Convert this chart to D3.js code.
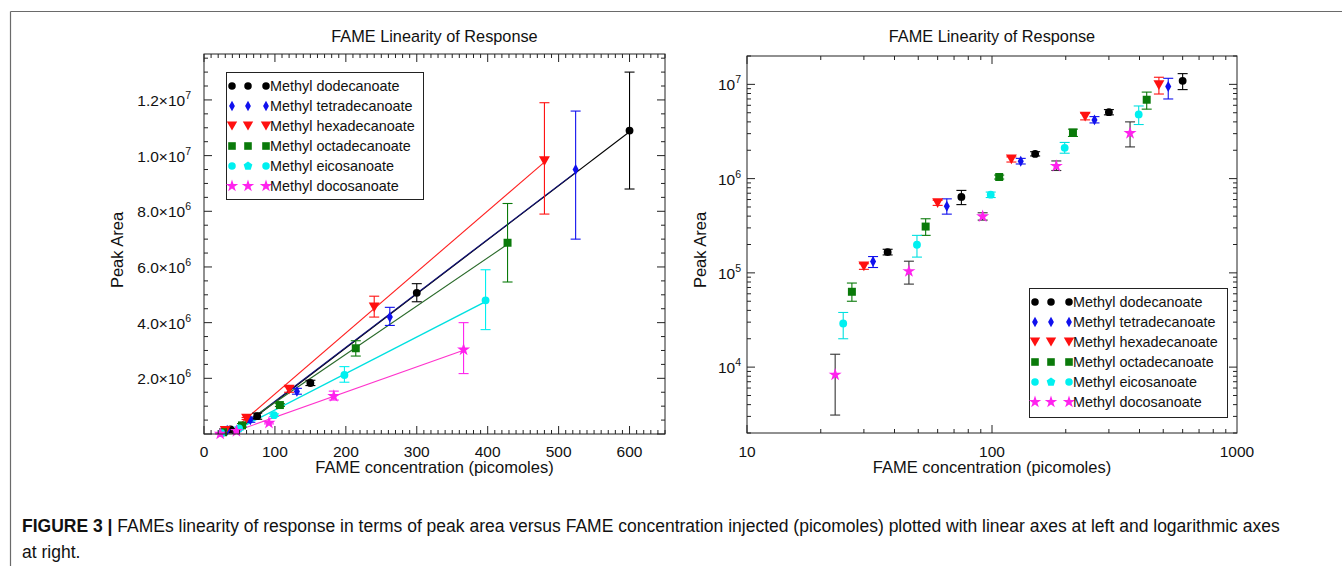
<!DOCTYPE html>
<html><head><meta charset="utf-8">
<script src="https://cdn.jsdelivr.net/npm/d3@7"></script>
<style>body{margin:0;background:#fff} text{font-family:"Liberation Sans",Arial,Helvetica,sans-serif;fill:#111}</style>
</head><body><svg id="c" width="1342" height="566"></svg>
<script>
// ---------- DATA ----------
const seriesNames = ["Methyl dodecanoate","Methyl tetradecanoate","Methyl hexadecanoate","Methyl octadecanoate","Methyl eicosanoate","Methyl docosanoate"];
const seriesShapes = ["circle","diamond","triangleDown","square","pentagon","star"];
const seriesColors = ["#000000","#1010ee","#ff1010","#0a7a0a","#00f0f0","#ff22ee"];
const fitColors = ["#000000","#10107a","#ff2020","#2a6a2a","#00e0e0","#ff33cc"];
const logErrColors = ["#000000","#1010ee","#ff1010","#0a7a0a","#00e0e0","#333333"];

const dodecX = [37.5, 75, 150, 300, 600];
const dodecY = [1.66e5, 6.4e5, 1.83e6, 5.07e6, 1.09e7];
const dodecLo = [1.55e5, 5.3e5, 1.74e6, 4.75e6, 8.8e6];
const dodecHi = [1.78e5, 7.5e5, 1.93e6, 5.4e6, 1.30e7];

const tetraX = [32.7, 65.4, 131, 262, 524];
const tetraY = [1.32e5, 5.1e5, 1.53e6, 4.2e6, 9.5e6];
const tetraLo = [1.14e5, 4.2e5, 1.43e6, 3.9e6, 7.0e6];
const tetraHi = [1.49e5, 6.1e5, 1.64e6, 4.55e6, 1.16e7];

const hexaX = [30, 60, 120, 240, 480];
const hexaY = [1.17e5, 5.5e5, 1.6e6, 4.55e6, 9.8e6];
const hexaLo = [1.09e5, 5.2e5, 1.5e6, 4.2e6, 7.9e6];
const hexaHi = [1.25e5, 5.9e5, 1.7e6, 4.95e6, 1.19e7];

const octaX = [26.8, 53.6, 107, 214, 428];
const octaY = [6.3e4, 3.1e5, 1.04e6, 3.08e6, 6.87e6];
const octaLo = [5.0e4, 2.5e5, 0.99e6, 2.8e6, 5.46e6];
const octaHi = [7.8e4, 3.75e5, 1.09e6, 3.35e6, 8.28e6];

const eicoX = [24.7, 49.4, 98.8, 198, 397];
const eicoY = [2.9e4, 1.99e5, 6.76e5, 2.12e6, 4.8e6];
const eicoLo = [2.0e4, 1.47e5, 6.3e5, 1.86e6, 3.75e6];
const eicoHi = [3.8e4, 2.5e5, 7.2e5, 2.42e6, 5.9e6];

const docoX = [22.9, 45.8, 91.6, 183, 366];
const docoY = [8.3e3, 1.04e5, 3.97e5, 1.36e6, 3.03e6];
const docoLo = [3.1e3, 7.6e4, 3.63e5, 1.22e6, 2.17e6];
const docoHi = [1.37e4, 1.33e5, 4.34e5, 1.54e6, 4.0e6];

const linXTicks = [0, 100, 200, 300, 400, 500, 600];
const linYTicks = [2e6, 4e6, 6e6, 8e6, 1e7, 1.2e7];
const linYLabels = [["2.0×10","6"],["4.0×10","6"],["6.0×10","6"],["8.0×10","6"],["1.0×10","7"],["1.2×10","7"]];
const logXTicks = [10, 100, 1000];
const logXLabels = ["10","100","1000"];
const logYTicks = [1e4, 1e5, 1e6, 1e7];
const logYLabels = [["10","4"],["10","5"],["10","6"],["10","7"]];

const titleText = "FAME Linearity of Response";
const xTitle = "FAME concentration (picomoles)";
const yTitle = "Peak Area";

// ---------- BUILD ----------
const allX = [dodecX, tetraX, hexaX, octaX, eicoX, docoX];
const allY = [dodecY, tetraY, hexaY, octaY, eicoY, docoY];
const allLo = [dodecLo, tetraLo, hexaLo, octaLo, eicoLo, docoLo];
const allHi = [dodecHi, tetraHi, hexaHi, octaHi, eicoHi, docoHi];
const series = seriesNames.map((n, i) => ({
  name: n, shape: seriesShapes[i], color: seriesColors[i], fit: fitColors[i], logErr: logErrColors[i],
  pts: allX[i].map((x, j) => ({x, y: allY[i][j], lo: allLo[i][j], hi: allHi[i][j]}))
}));

const svg = d3.select("#c");

// frame
svg.append("line").attr("x1", 10.5).attr("x2", 1342).attr("y1", 11.5).attr("y2", 11.5).attr("stroke", "#6a6a6a").attr("stroke-width", 1.2);
svg.append("line").attr("x1", 10.5).attr("x2", 10.5).attr("y1", 11.5).attr("y2", 566).attr("stroke", "#6a6a6a").attr("stroke-width", 1.2);

function shapePath(shape, s) {
  s = s || 1;
  switch (shape) {
    case "circle": return d3.symbol(d3.symbolCircle, 44 * s * s)();
    case "diamond": { const w = 2.9 * s, h = 5.2 * s; return `M0,${-h}L${w},0L0,${h}L${-w},0Z`; }
    case "triangleDown": { const w = 5.2 * s, h = 4.6 * s; return `M${-w},${-h}L${w},${-h}L0,${h}Z`; }
    case "square": { const a = 3.8 * s; return `M${-a},${-a}H${a}V${a}H${-a}Z`; }
    case "pentagon": {
      const r = 4.6 * s; let d = "";
      for (let k = 0; k < 5; k++) { const a = -Math.PI / 2 + k * 2 * Math.PI / 5; d += (k ? "L" : "M") + (r * Math.cos(a)).toFixed(2) + "," + (r * Math.sin(a)).toFixed(2); }
      return d + "Z";
    }
    case "star": return d3.symbol(d3.symbolStar, 48 * s * s)();
  }
}

function supLabel(g, x, y, parts, anchor, fs) {
  const t = g.append("text").attr("x", x).attr("y", y).attr("text-anchor", anchor).style("font-size", fs + "px");
  t.append("tspan").text(parts[0]);
  t.append("tspan").attr("dy", -7).style("font-size", (fs * 0.68) + "px").text(parts[1]);
  return t;
}

function drawLegend(g, x0, y0, w, h) {
  g.append("rect").attr("x", x0 + 0.5).attr("y", y0 + 0.5).attr("width", w).attr("height", h)
    .attr("fill", "#fff").attr("stroke", "#222").attr("stroke-width", 1);
  series.forEach((s, i) => {
    const yy = y0 + 14 + i * 20;
    [6, 22, 40].forEach((dx, k) => {
      const shp = (s.shape === "pentagon" && k !== 1) ? "circle" : s.shape;
      g.append("path").attr("d", shapePath(shp, 1)).attr("transform", `translate(${x0 + dx},${yy})`).attr("fill", s.color);
    });
    g.append("text").attr("x", x0 + 44).attr("y", yy + 5).style("font-size", "14.4px").text(s.name);
  });
}

function errBar(g, x, y1, y2, color) {
  g.append("line").attr("x1", x).attr("x2", x).attr("y1", y1).attr("y2", y2).attr("stroke", color).attr("stroke-width", 1.1);
  [y1, y2].forEach(yy => g.append("line").attr("x1", x - 5).attr("x2", x + 5).attr("y1", yy).attr("y2", yy).attr("stroke", color).attr("stroke-width", 1.1));
}

// ---------- LEFT PANEL (linear) ----------
{
  const L = 204, R = 665, T = 54, B = 434;
  const x = d3.scaleLinear().domain([0, 650]).range([L, R]);
  const y = d3.scaleLinear().domain([0, 1.365e7]).range([B, T]);
  const g = svg.append("g");
  const clipId = "clipL";
  svg.append("clipPath").attr("id", clipId).append("rect").attr("x", L).attr("y", T).attr("width", R - L).attr("height", B - T);

  const gl = g.append("g").attr("clip-path", `url(#${clipId})`);
  series.forEach(s => {
    const mx = d3.mean(s.pts, p => p.x), my = d3.mean(s.pts, p => p.y);
    const slope = d3.sum(s.pts, p => (p.x - mx) * (p.y - my)) / d3.sum(s.pts, p => (p.x - mx) ** 2);
    const icpt = my - slope * mx;
    const x1 = d3.min(s.pts, p => p.x), x2 = d3.max(s.pts, p => p.x);
    gl.append("line").attr("x1", x(x1)).attr("y1", y(icpt + slope * x1)).attr("x2", x(x2)).attr("y2", y(icpt + slope * x2))
      .attr("stroke", s.fit).attr("stroke-width", s.shape === "pentagon" ? 1.5 : 1.1);
  });
  series.forEach(s => {
    s.pts.forEach(p => errBar(g, x(p.x), y(p.hi), y(p.lo), s.color));
  });
  series.forEach(s => {
    s.pts.forEach(p => g.append("path").attr("d", shapePath(s.shape === "pentagon" ? "circle" : s.shape, 1.05))
      .attr("transform", `translate(${x(p.x)},${y(p.y)})`).attr("fill", s.color));
  });

  const ax = g.append("g").attr("stroke", "#222").attr("stroke-width", 1);
  ax.append("rect").attr("x", L).attr("y", T).attr("width", R - L).attr("height", B - T).attr("fill", "none");
  d3.range(0, 651, 10).forEach(v => {
    const len = v % 100 === 0 ? 8 : 4;
    ax.append("line").attr("x1", x(v)).attr("x2", x(v)).attr("y1", B).attr("y2", B - len);
    ax.append("line").attr("x1", x(v)).attr("x2", x(v)).attr("y1", T).attr("y2", T + len);
  });
  d3.range(0, 1.365e7, 5e5).forEach(v => {
    const len = Math.round(v / 5e5) % 4 === 0 ? 8 : 4;
    ax.append("line").attr("x1", L).attr("x2", L + len).attr("y1", y(v)).attr("y2", y(v));
    ax.append("line").attr("x1", R).attr("x2", R - len).attr("y1", y(v)).attr("y2", y(v));
  });
  linXTicks.forEach(v => g.append("text").attr("x", x(v)).attr("y", 457).attr("text-anchor", "middle").style("font-size", "15.5px").text(v));
  linYTicks.forEach((v, i) => supLabel(g, 191, y(v) + 6, linYLabels[i], "end", 15.5));

  g.append("text").attr("x", (L + R) / 2).attr("y", 42).attr("text-anchor", "middle").style("font-size", "16.3px").text(titleText);
  g.append("text").attr("x", (L + R) / 2).attr("y", 473).attr("text-anchor", "middle").style("font-size", "16.5px").text(xTitle);
  g.append("text").attr("transform", `translate(123,250) rotate(-90)`).attr("text-anchor", "middle").style("font-size", "16.5px").text(yTitle);

  drawLegend(g, 226, 72, 197, 127);
}

// ---------- RIGHT PANEL (log) ----------
{
  const L = 747, R = 1237, T = 56, B = 433;
  const x = d3.scaleLog().domain([10, 1000]).range([L, R]);
  const y = d3.scaleLog().domain([2e3, 2e7]).range([B, T]);
  const g = svg.append("g");

  series.forEach(s => {
    s.pts.forEach(p => errBar(g, x(p.x), y(p.hi), y(p.lo), s.logErr));
  });
  series.forEach(s => {
    s.pts.forEach(p => g.append("path").attr("d", shapePath(s.shape === "pentagon" ? "circle" : s.shape, 1.05))
      .attr("transform", `translate(${x(p.x)},${y(p.y)})`).attr("fill", s.color));
  });

  const ax = g.append("g").attr("stroke", "#222").attr("stroke-width", 1);
  ax.append("rect").attr("x", L).attr("y", T).attr("width", R - L).attr("height", B - T).attr("fill", "none");
  [10, 100].forEach(dec => d3.range(1, 10).forEach(k => {
    const v = dec * k, len = k === 1 ? 8 : 4;
    ax.append("line").attr("x1", x(v)).attr("x2", x(v)).attr("y1", B).attr("y2", B - len);
    ax.append("line").attr("x1", x(v)).attr("x2", x(v)).attr("y1", T).attr("y2", T + len);
  }));
  [1e3, 1e4, 1e5, 1e6, 1e7].forEach(dec => d3.range(1, 10).forEach(k => {
    const v = dec * k; if (v < 2e3 || v > 2e7) return;
    const len = k === 1 ? 8 : 4;
    ax.append("line").attr("x1", L).attr("x2", L + len).attr("y1", y(v)).attr("y2", y(v));
    ax.append("line").attr("x1", R).attr("x2", R - len).attr("y1", y(v)).attr("y2", y(v));
  }));
  logXTicks.forEach((v, i) => g.append("text").attr("x", x(v)).attr("y", 457).attr("text-anchor", "middle").style("font-size", "15.5px").text(logXLabels[i]));
  logYTicks.forEach((v, i) => supLabel(g, 741, y(v) + 6, logYLabels[i], "end", 15.5));

  g.append("text").attr("x", (L + R) / 2).attr("y", 42).attr("text-anchor", "middle").style("font-size", "16.3px").text(titleText);
  g.append("text").attr("x", (L + R) / 2).attr("y", 473).attr("text-anchor", "middle").style("font-size", "16.5px").text(xTitle);
  g.append("text").attr("transform", `translate(706,250) rotate(-90)`).attr("text-anchor", "middle").style("font-size", "16.5px").text(yTitle);

  drawLegend(g, 1029, 288, 198, 129);
}

// ---------- CAPTION ----------
const cap = svg.append("text").attr("x", 22).attr("y", 532).style("font-size", "17.5px");
cap.append("tspan").style("font-weight", "bold").text("FIGURE 3 | ");
cap.append("tspan").text("FAMEs linearity of response in terms of peak area versus FAME concentration injected (picomoles) plotted with linear axes at left and logarithmic axes");
svg.append("text").attr("x", 22).attr("y", 558).style("font-size", "17.5px").text("at right.");
</script></body></html>
